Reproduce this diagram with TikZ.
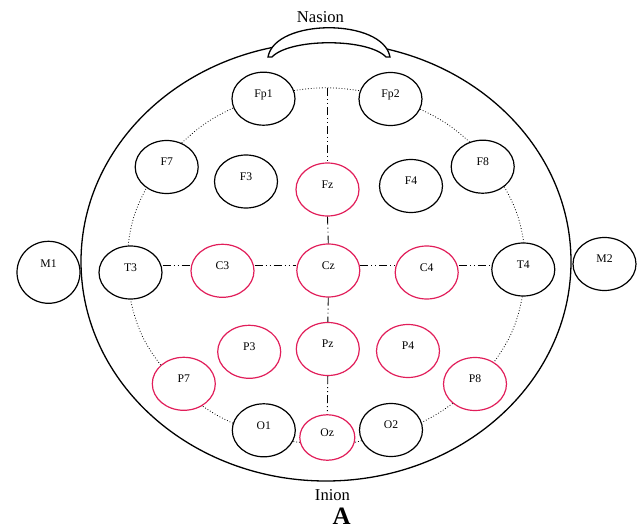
\documentclass[tikz,border=0pt]{standalone}
\usepackage{fontspec}
\setmainfont{Liberation Serif}
\usetikzlibrary{shapes.geometric}
\definecolor{elred}{RGB}{225,30,90}
\begin{document}
\begin{tikzpicture}[x=1pt,y=-1pt,
  electrode/.style={ellipse, draw=black, line width=1.2pt, fill=white, inner sep=0pt,
    minimum width=63pt, minimum height=53pt, font=\fontsize{11.7}{13}\selectfont,
    text height=0pt, text depth=2.5pt},
  redelec/.style={electrode, draw=elred},
  ringline/.style={line width=0.8pt, dotted},
  midline/.style={line width=0.9pt, dash pattern=on 8pt off 3pt on 1pt off 3pt on 1pt off 3pt},
  headline/.style={line width=1.3pt},
  landmark/.style={font=\fontsize{16.6}{20}\selectfont, inner sep=0pt, anchor=base}
]
\useasboundingbox (0,0) rectangle (638,530);
% head outline and nasion bump
\draw[headline] (326,261.6) ellipse [x radius=245pt, y radius=219.4pt];
\filldraw[headline, fill=white] (268,57) .. controls (275,18) and (383,18) .. (390,57)
  -- (386,57) .. controls (368,38) and (290,38) .. (272,57) -- cycle;

% electrodes
\node[electrode] (Fp1) at (263.5,98.7) {Fp1};
\node[electrode] (Fp2) at (390.5,99) {Fp2};
\node[electrode] (F7) at (166.7,167) {F7};
\node[electrode] (F3) at (246,181.5) {F3};
\node[redelec] (Fz) at (327.5,189.5) {Fz};
\node[electrode] (F4) at (411,186) {F4};
\node[electrode] (F8) at (482.7,166.7) {F8};
\node[electrode, minimum height=62pt, text depth=10pt] (M1) at (48.5,272.3) {M1};
\node[electrode] (T3) at (130.5,272.5) {T3};
\node[redelec] (C3) at (222.5,270.8) {C3};
\node[redelec] (Cz) at (328.3,270.5) {Cz};
\node[redelec] (C4) at (426.7,272.5) {C4};
\node[electrode] (T4) at (523.3,269.5) {T4};
\node[electrode] (M2) at (604.5,264) {M2};
\node[redelec] (P7) at (183.8,383.8) {P7};
\node[redelec] (P3) at (249.2,351.8) {P3};
\node[redelec] (Pz) at (327.8,349) {Pz};
\node[redelec] (P4) at (408,351) {P4};
\node[redelec] (P8) at (475,384) {P8};
\node[electrode] (O1) at (263.8,430.3) {O1};
\node[redelec, minimum width=55pt, minimum height=45.5pt] (Oz) at (327.3,437.5) {Oz};
\node[electrode] (O2) at (391,430) {O2};

% dotted circumference
\draw[ringline] (Fp1.15) to[bend left=8.5] (Fp2.165);
\draw[ringline] (Fp2.341) to[bend left=8.5] (F8.118.5);
\draw[ringline] (F8.317.6) to[bend left=10.3] (T4.89);
\draw[ringline] (T4.268.5) to[bend left=12.3] (P8.49.2);
\draw[ringline] (P8.221) to[bend left=5] (O2.14.4);
\draw[ringline] (O2.200.8) -- (Oz.350.5);
\draw[ringline] (Oz.190.4) -- (O1.339);
\draw[ringline] (O1.167.4) to[bend left=5] (P7.310.3);
\draw[ringline] (P7.141.6) to[bend left=12.4] (T3.270);
\draw[ringline] (T3.95.7) to[bend left=10.6] (F7.226.4);
\draw[ringline] (F7.58) to[bend left=9] (Fp1.197.8);

% midline and coronal line
\coordinate (vtop) at (327.5,88);
\coordinate (hrow) at (0,265);
\draw[midline] (vtop) -- (Fz.north);
\draw[midline] (Fz.south) -- (Cz.north);
\draw[midline] (Cz.south) -- (Pz.north);
\draw[midline] (Pz.south) -- (Oz.north);
\draw[midline] (T3.east |- hrow) -- (C3.west |- hrow);
\draw[midline] (C3.east |- hrow) -- (Cz.west |- hrow);
\draw[midline] (Cz.east |- hrow) -- (C4.west |- hrow);
\draw[midline] (C4.east |- hrow) -- (T4.west |- hrow);

% landmark labels
\node[landmark] (nasion) at (320.5,22.3) {Nasion};
\node[landmark] (inion) at (332.5,500.7) {Inion};
\node[font=\fontsize{25}{30}\selectfont\bfseries, inner sep=0pt, anchor=base] (panel) at (341.7,524) {A};
\end{tikzpicture}
\end{document}
